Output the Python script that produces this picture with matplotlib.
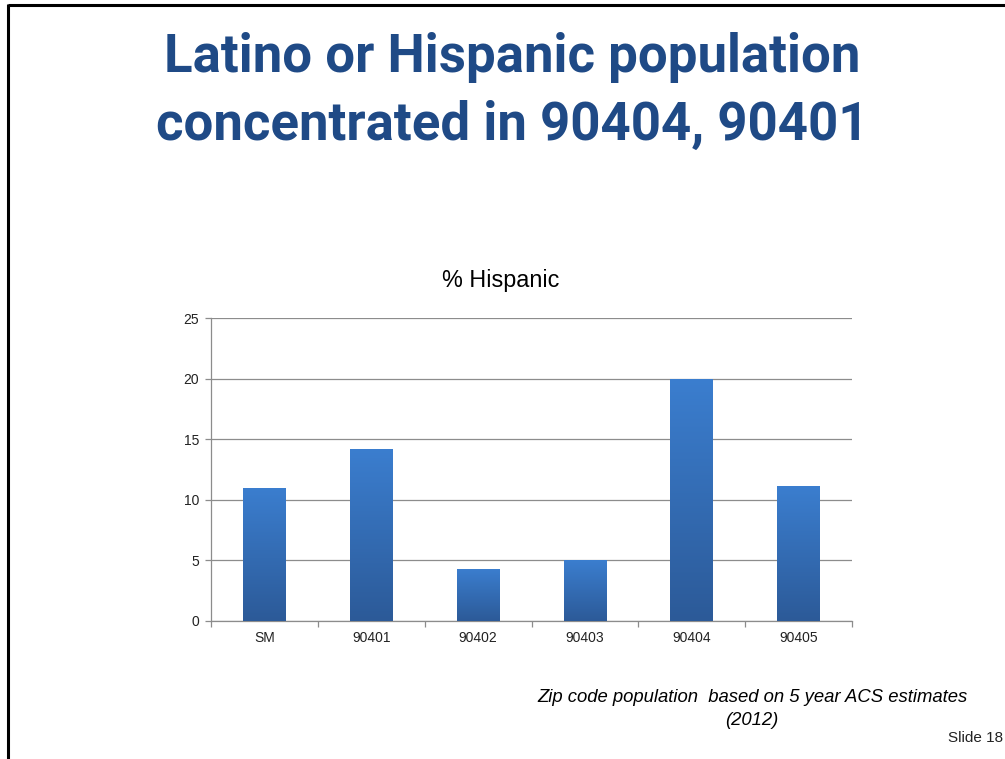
import numpy as np
import matplotlib
matplotlib.use('Agg')
import matplotlib.pyplot as plt
from matplotlib.lines import Line2D

# % Hispanic by zip code (5 year ACS estimates, 2012)
zips = ['SM', '90401', '90402', '90403', '90404', '90405']
pct_hispanic = [11.0, 14.2, 4.3, 5.0, 20.0, 11.1]
y_ticks = [0, 5, 10, 15, 20, 25]

title_lines = ['Latino or Hispanic population', 'concentrated in 90404, 90401']
chart_title = '% Hispanic'
note_lines = ['Zip code population  based on 5 year ACS estimates', '(2012)']
slide_no = 'Slide 18'

title_font = 'Roboto'
body_font = 'Liberation Sans'

title_blue = '#1f4a86'
grid_gray = '#8c8c8c'

fig = plt.figure(figsize=(10.05, 7.59), dpi=100)

# slide frame (left and top edges only)
fig.add_artist(Line2D([8 / 1005, 8 / 1005], [0, 1 - 4 / 759], transform=fig.transFigure,
                      color='black', lw=2.2, solid_capstyle='butt'))
fig.add_artist(Line2D([8 / 1005, 1], [1 - 5 / 759, 1 - 5 / 759], transform=fig.transFigure,
                      color='black', lw=2.2, solid_capstyle='butt'))

# slide heading
fig.text(0.51, 1 - 72 / 759, title_lines[0], ha='center', va='baseline',
         fontsize=38, fontweight='bold', family=title_font, color=title_blue)
fig.text(0.51, 1 - 140 / 759, title_lines[1], ha='center', va='baseline',
         fontsize=38, fontweight='bold', family=title_font, color=title_blue)

ax = fig.add_axes([211 / 1005, 1 - 621 / 759, 641 / 1005, 303 / 759])
x = np.arange(len(zips))
bars = ax.bar(x, pct_hispanic, width=0.4, color='#346cb5', zorder=2)

# vertical gradient on each bar: lighter blue at the top, darker at the base
grad = np.linspace(1, 0, 256).reshape(-1, 1)
cmap = matplotlib.colors.LinearSegmentedColormap.from_list('bar', ['#2c5a98', '#3b7ecf'])
for b in bars:
    x0, w, h = b.get_x(), b.get_width(), b.get_height()
    im = ax.imshow(grad, extent=[x0, x0 + w, 0, h], aspect='auto', cmap=cmap,
                   vmin=0, vmax=1, zorder=3)
    im.set_clip_path(b)
    b.set_alpha(0)

ax.set_xlim(-0.5, len(zips) - 0.5)
ax.set_ylim(0, 25)
ax.set_yticks(y_ticks)
ax.yaxis.grid(True, color=grid_gray, lw=0.9, zorder=0)
ax.set_axisbelow(True)

# category ticks sit between the bars, labels at bar centers
ax.set_xticks(np.arange(len(zips) + 1) - 0.5)
ax.set_xticklabels([])
ax.set_xticks(x, minor=True)
ax.set_xticklabels(zips, minor=True, fontsize=10, family=body_font, color='#222222')
ax.tick_params(axis='x', which='major', length=4, color=grid_gray, width=0.9)
ax.tick_params(axis='x', which='minor', length=0, pad=7)
ax.tick_params(axis='y', length=4, color=grid_gray, width=0.9, pad=4.5)
for lbl in ax.get_yticklabels():
    lbl.set_fontsize(10)
    lbl.set_family(body_font)
    lbl.set_color('#222222')

for side in ['top', 'right']:
    ax.spines[side].set_visible(False)
for side in ['left', 'bottom']:
    ax.spines[side].set_color(grid_gray)
    ax.spines[side].set_linewidth(0.9)

fig.text(501 / 1005, 1 - 287 / 759, chart_title, ha='center', va='baseline',
         fontsize=16.8, family=body_font, color='black')

# source note and slide number
fig.text(752 / 1005, 1 - 702 / 759, note_lines[0], ha='center', va='baseline',
         fontsize=13.3, style='italic', family=body_font, color='black')
fig.text(752 / 1005, 1 - 725 / 759, note_lines[1], ha='center', va='baseline',
         fontsize=13.3, style='italic', family=body_font, color='black')
fig.text(948 / 1005, 1 - 742 / 759, slide_no, ha='left', va='baseline',
         fontsize=11, family=body_font, color='#222222')

fig.savefig('out.png', dpi=100)
